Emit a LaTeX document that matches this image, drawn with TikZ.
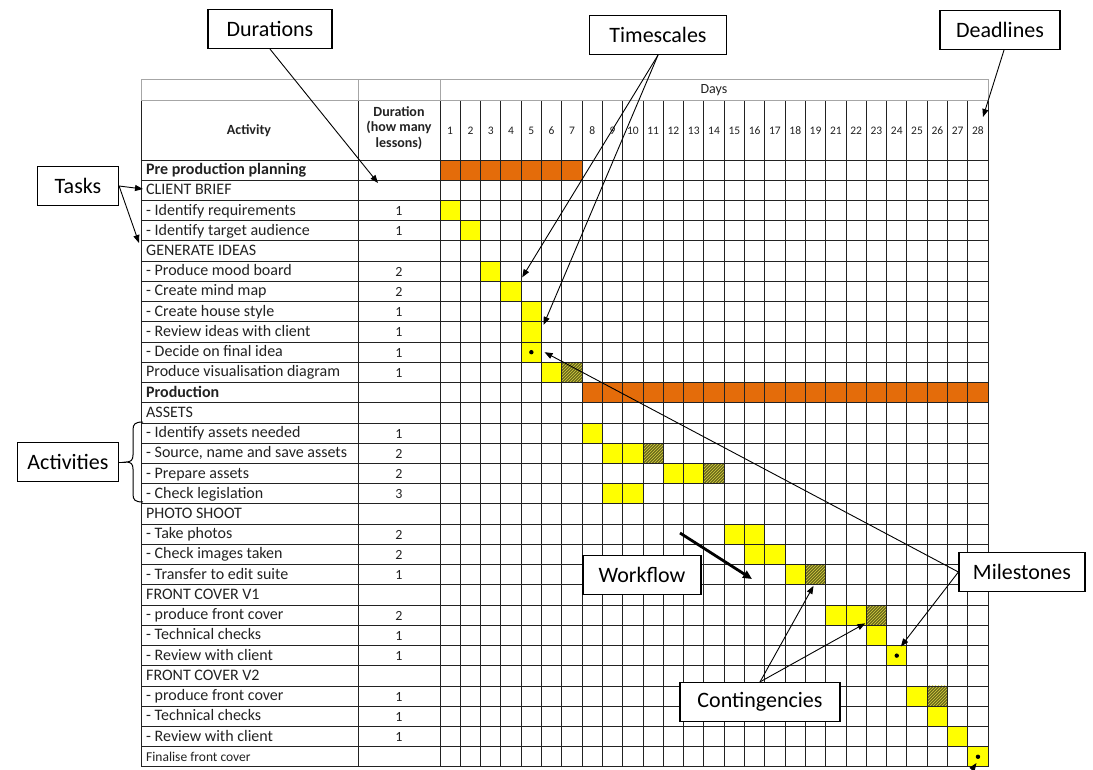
\documentclass[tikz,border=0pt]{standalone}
\usepackage{fontspec}
\setmainfont{Carlito}
\usetikzlibrary{arrows.meta,patterns}
\definecolor{barorange}{HTML}{E46C0A}
\definecolor{baryellow}{HTML}{FFFF00}
\definecolor{hatchfill}{HTML}{6A6A1C}
\definecolor{hatchline}{HTML}{D8D040}
\definecolor{gridline}{HTML}{222222}
\definecolor{textgray}{HTML}{222222}
\begin{document}
\begin{tikzpicture}[x=1pt,y=-1pt,
  callout/.style={draw=black, line width=1.2pt, fill=white, font=\fontsize{22}{24}\selectfont, minimum height=39pt, inner xsep=6pt},
  pointer/.style={line width=0.9pt, -{Triangle[length=8pt,width=6pt]}},
  rowtext/.style={anchor=west, font=\fontsize{16}{18}\selectfont, text=textgray, inner sep=0pt, text height=11pt, text depth=3pt},
  rowbold/.style={rowtext, font=\bfseries\fontsize{16}{18}\selectfont},
  durtext/.style={font=\fontsize{14}{16}\selectfont, text=textgray, inner sep=0pt},
  daynum/.style={font=\fontsize{11.5}{13}\selectfont, text=textgray, inner sep=0pt},
  headtext/.style={font=\bfseries\fontsize{14}{15.5}\selectfont, text=textgray, align=center, inner sep=0pt},
  gline/.style={draw=gridline, line width=0.9pt},
  topline/.style={draw=gray!70, line width=1pt}
]
\useasboundingbox (0,0) rectangle (1093,769);
\fill[white] (0,0) rectangle (1093,769);

% ---- bars and cells
\begin{scope}[shift={(440,160)}, x=20.3pt, y=-20.23pt]
  \fill[barorange] (0,0) rectangle (7,1);
  \fill[barorange] (7,11) rectangle (27,12);
  \foreach \c/\r in {0/2,1/3,2/5,3/6,4/7,4/8,4/9,5/10,7/13,8/14,9/14,11/15,12/15,8/16,9/16,14/18,15/18,15/19,16/19,17/20,19/22,20/22,21/23,22/24,23/26,24/27,25/28,26/29}
    \fill[baryellow] (\c,\r) rectangle ++(1,1);
  \foreach \c/\r in {6/10,10/14,13/15,18/20,21/22,24/26}{
    \fill[hatchfill] (\c,\r) rectangle ++(1,1);
    \fill[pattern=north east lines, pattern color=hatchline] (\c,\r) rectangle ++(1,1);
  }
  \coordinate (tsTipA) at (4.05,5.8);
  \coordinate (tsTipB) at (5.1,8.15);
  \coordinate (msTipA) at (5.15,9.5);
  \coordinate (msTipB) at (22.7,24.05);
  \coordinate (ctTipA) at (18.4,21.05);
  \coordinate (ctTipB) at (20.95,22.9);
  \coordinate (dotA) at (4.5,9.5);
  \coordinate (dotB) at (22.5,24.5);
  \coordinate (dotC) at (26.5,29.5);
\end{scope}

% ---- grid
\foreach \r in {0,...,30} \draw[gline] (141,160+\r*20.23) -- (988.1,160+\r*20.23);
\draw[gline] (141,100) -- (988.1,100);
\foreach \i in {1,...,26} \draw[gline] (440+\i*20.3,100) -- (440+\i*20.3,767);
\draw[gline] (141,100) -- (141,767);
\draw[gline] (358,100) -- (358,767);
\draw[gline] (440,100) -- (440,767);
\draw[gline] (988.1,100) -- (988.1,767);
% top (Days) row
\draw[topline] (141,79) rectangle (988.1,100);
\draw[topline] (358,79) -- (358,100);
\draw[topline] (440,79) -- (440,100);

% milestone dots
\foreach \d in {dotA,dotB,dotC} \fill[black] (\d) circle[radius=2.2pt];

% ---- header texts
\node[font=\fontsize{14}{16}\selectfont, text=textgray, inner sep=0pt] (days) at (714,90) {Days};
\node[headtext] (hdact) at (249,131) {Activity};
\node[headtext] (hddur) at (399,128) {Duration\\(how many\\lessons)};
\foreach \i in {1,...,27}{
  \pgfmathtruncatemacro\lab{\i<20 ? \i : \i+1}
  \node[daynum, name=day\i] at (440+\i*20.3-10.15,131) {\lab};
}

% ---- row texts
\foreach \r/\t/\d in {
  1/CLIENT BRIEF/,
  2/- Identify requirements/1,
  3/- Identify target audience/1,
  4/GENERATE IDEAS/,
  5/- Produce mood board/2,
  6/- Create mind map/2,
  7/- Create house style/1,
  8/- Review ideas with client/1,
  9/- Decide on final idea/1,
  10/Produce visualisation diagram/1,
  12/ASSETS/,
  13/- Identify assets needed/1,
  14/{- Source, name and save assets}/2,
  15/- Prepare assets/2,
  16/- Check legislation/3,
  17/PHOTO SHOOT/,
  18/- Take photos/2,
  19/- Check images taken/2,
  20/- Transfer to edit suite/1,
  21/FRONT COVER V1/,
  22/- produce front cover/2,
  23/- Technical checks/1,
  24/- Review with client/1,
  25/FRONT COVER V2/,
  26/- produce front cover/1,
  27/- Technical checks/1,
  28/- Review with client/1}{
  \node[rowtext, name=act\r] at (146,160+\r*20.23+10.6) {\t};
  \node[durtext, name=dur\r] at (399,160+\r*20.23+10.6) {\d};
}
\node[rowbold] (act0) at (146,160+10.6) {Pre production planning};
\node[rowbold] (act11) at (146,160+11*20.23+10.6) {Production};
\node[rowtext, font=\fontsize{13.5}{15}\selectfont] (act29) at (146,160+29*20.23+10.6) {Finalise front cover};

% ---- callouts
\node[callout, minimum width=124pt] (durations) at (270,29) {Durations};
\node[callout, minimum width=137pt] (timescales) at (658,35) {Timescales};
\node[callout, minimum width=120pt] (deadlines) at (1000,30) {Deadlines};
\node[callout, minimum width=81pt] (tasks) at (78,186) {Tasks};
\node[callout, minimum width=101pt] (activities) at (68,462) {Activities};
\node[callout, minimum width=118pt] (workflow) at (642,575) {Workflow};
\node[callout, minimum width=126pt] (milestones) at (1022,572) {Milestones};
\node[callout, minimum width=160pt] (contingencies) at (760,702) {Contingencies};

\coordinate (durTip) at (378,183);
\coordinate (ddTip) at (983,117);
\coordinate (tkTipA) at (143,189);
\coordinate (tkTipB) at (139,243);
\coordinate (wfStart) at (680,533);
\coordinate (wfEnd) at (752,579);
\coordinate (finStart) at (971,771);
\coordinate (finTip) at (976.5,763);
\coordinate (brTip) at (126,462);

\draw[pointer] (durations.south) -- (durTip);
\draw[pointer] (timescales.south) -- (tsTipA);
\draw[pointer] (timescales.south) -- (tsTipB);
\draw[pointer] ([xshift=4pt]deadlines.south) -- (ddTip);
\draw[pointer] (tasks.east) -- (tkTipA);
\draw[pointer] (tasks.east) -- (tkTipB);
\draw[pointer] (milestones.west) -- (msTipA);
\draw[pointer] (milestones.west) -- (msTipB);
\draw[pointer] (contingencies.north) -- (ctTipA);
\draw[pointer] (contingencies.north) -- (ctTipB);
\draw[pointer] (finStart) -- (finTip);
\draw[line width=2.8pt, -{Triangle[length=9pt,width=8pt]}] (wfStart) -- (wfEnd);

% brace for activities
\draw[line width=1pt] (activities.east) -- (brTip);
\draw[line width=1pt] (143,422) .. controls (135,422) and (133,424) .. (133,430) -- (133,455)
  .. controls (133,460) and (131,462) .. (brTip)
  .. controls (131,462) and (133,464) .. (133,469) -- (133,494)
  .. controls (133,500) and (135,502) .. (143,502);
\end{tikzpicture}
\end{document}
